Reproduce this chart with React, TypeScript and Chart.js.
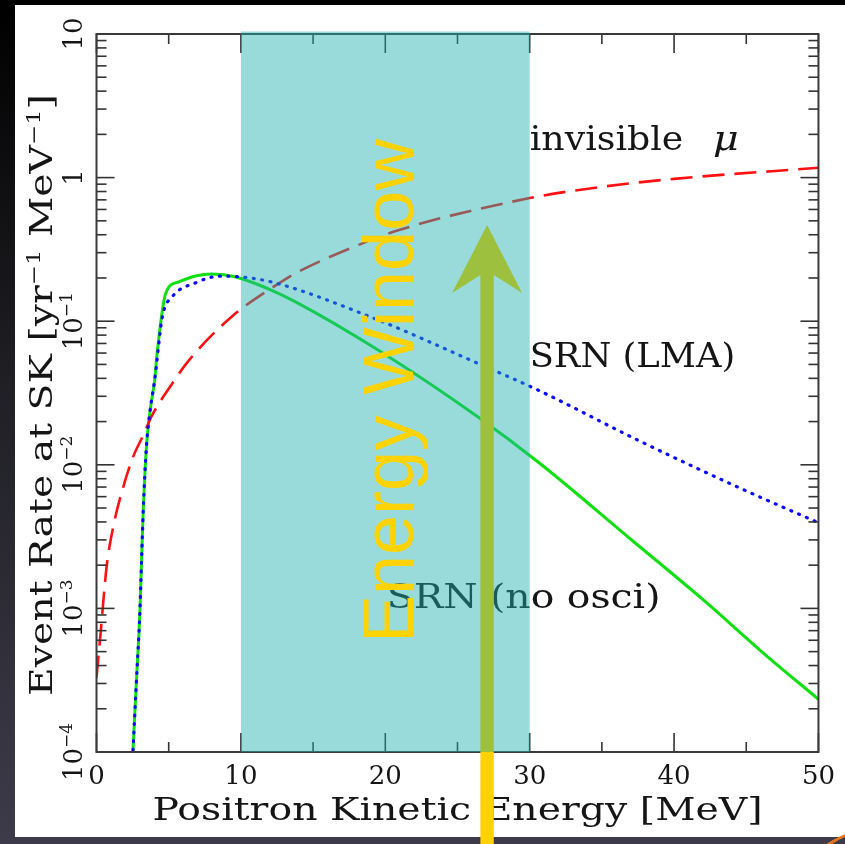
import { useEffect, useRef } from 'react';
import { Chart, registerables } from 'chart.js';

Chart.register(...registerables);

// ---------- axis ticks ----------
const xMajorTicks = [0, 10, 20, 30, 40, 50];
const xMinorTicks = [5, 15, 25, 35, 45];
const yDecades = [-4, -3, -2, -1, 0, 1];
const yMinorMultipliers = [2, 3, 4, 5, 6, 7, 8, 9];

// ---------- series: invisible mu (red dashed) ----------
const muEnergy = [0, 0.24, 0.7, 1.16, 1.85, 2.54, 3.23, 3.8, 5.18, 6.44, 9.38, 12.65, 13.75, 18.16, 20.9, 30, 34.7, 40, 50];
const muRate = [3.3e-4, 6.0e-4, 1.95e-3, 3.7e-3, 7.0e-3, 0.0114, 0.016, 0.0216, 0.036, 0.054, 0.108, 0.184, 0.215, 0.34, 0.43, 0.72, 0.855, 0.98, 1.17];

// ---------- series: SRN (LMA) (blue dotted) ----------
const lmaEnergy = [2.5, 2.77, 3.0, 3.23, 3.46, 3.69, 4.03, 4.56, 5.25, 6.86, 8.58, 10.3, 12.37, 19.5, 26.4, 30.56, 37.46, 44.35, 50];
const lmaRate = [9e-5, 3.2e-4, 9.2e-4, 4.6e-3, 0.0134, 0.0229, 0.039, 0.107, 0.148, 0.185, 0.206, 0.202, 0.185, 0.102, 0.0509, 0.0332, 0.0149, 0.00704, 0.00395];

// ---------- series: SRN (no osci) (green solid) ----------
const noOsciEnergy = [2.5, 2.77, 3.0, 3.23, 3.46, 3.69, 4.03, 4.2, 4.79, 5.71, 6.86, 8.0, 9.6, 11.9, 13.75, 19.5, 26.4, 30.56, 37.23, 42.05, 46.2, 50];
const noOsciRate = [9e-5, 3.2e-4, 9.2e-4, 4.6e-3, 0.0134, 0.0229, 0.039, 0.06, 0.156, 0.188, 0.2065, 0.213, 0.204, 0.168, 0.137, 0.063, 0.0216, 0.0105, 0.0029, 0.00114, 4.87e-4, 2.33e-4];

// ---------- annotations (data coordinates) ----------
const energyWindow = [10, 30];
const windowTextAt = [21.95, 0.0327];
const arrowAt = [27.05, 0.468];
const labelMu = [30.0, 1.56];
const labelLma = [30.0, 0.048];
const labelNoOsci = [20.1, 1.0e-3];

const SERIF = '"DejaVu Serif", "Liberation Serif", serif';
const TEXT_COLOR = '#151515';

type Part = { t: string; size: number; rise?: number; italic?: boolean; gap?: number };

function fontOf(p: Part) {
  return `${p.italic ? 'italic ' : ''}${p.size}px ${SERIF}`;
}

function drawParts(
  ctx: CanvasRenderingContext2D,
  parts: Part[],
  x: number,
  y: number,
  rot: number,
  align: 'center' | 'left',
  stretch: number,
  color: string
) {
  ctx.save();
  ctx.translate(x, y);
  ctx.rotate(rot);
  ctx.scale(stretch, 1);
  let w = 0;
  for (const p of parts) {
    ctx.font = fontOf(p);
    w += ctx.measureText(p.t).width + (p.gap || 0);
  }
  let cx = align === 'center' ? -w / 2 : 0;
  ctx.fillStyle = color;
  ctx.textAlign = 'left';
  ctx.textBaseline = 'alphabetic';
  for (const p of parts) {
    ctx.font = fontOf(p);
    cx += p.gap || 0;
    ctx.fillText(p.t, cx, -(p.rise || 0));
    cx += ctx.measureText(p.t).width;
  }
  ctx.restore();
}

const backgroundPlugin = {
  id: 'bg',
  beforeDraw(chart: any) {
    const { ctx, width, height } = chart;
    ctx.save();
    const g = ctx.createLinearGradient(0, 0, 0, height);
    g.addColorStop(0, '#000000');
    g.addColorStop(0.45, '#1f1f24');
    g.addColorStop(1, '#3d3b4a');
    ctx.fillStyle = g;
    ctx.fillRect(0, 0, width, height);
    ctx.fillStyle = '#ffffff';
    ctx.fillRect(15, 5, width - 15, 832);
    ctx.restore();
  },
};

const overlayPlugin = {
  id: 'overlay',
  afterDraw(chart: any) {
    const { ctx, chartArea: a, scales } = chart;
    const x = scales.x;
    const y = scales.y;
    ctx.save();

    // inward ticks
    ctx.strokeStyle = '#333333';
    ctx.lineWidth = 1.6;
    const seg = (x1: number, y1: number, x2: number, y2: number) => {
      ctx.beginPath();
      ctx.moveTo(x1, y1);
      ctx.lineTo(x2, y2);
      ctx.stroke();
    };
    for (const v of xMajorTicks) {
      const px = x.getPixelForValue(v);
      seg(px, a.bottom, px, a.bottom - 19);
      seg(px, a.top, px, a.top + 19);
    }
    for (const v of xMinorTicks) {
      const px = x.getPixelForValue(v);
      seg(px, a.bottom, px, a.bottom - 10);
      seg(px, a.top, px, a.top + 10);
    }
    for (const d of yDecades) {
      const base = Math.pow(10, d);
      const py = y.getPixelForValue(base);
      seg(a.left, py, a.left + 18, py);
      seg(a.right, py, a.right - 18, py);
      if (d < 1) {
        for (const m of yMinorMultipliers) {
          const pm = y.getPixelForValue(m * base);
          seg(a.left, pm, a.left + 10, pm);
          seg(a.right, pm, a.right - 10, pm);
        }
      }
    }
    // frame
    ctx.strokeStyle = '#3a3a3a';
    ctx.lineWidth = 2;
    ctx.strokeRect(a.left, a.top, a.right - a.left, a.bottom - a.top);

    // y tick labels (rotated)
    for (const d of yDecades) {
      const py = y.getPixelForValue(Math.pow(10, d));
      const parts: Part[] =
        d === 0
          ? [{ t: '1', size: 26 }]
          : d === 1
          ? [{ t: '10', size: 26 }]
          : [
              { t: '10', size: 26 },
              { t: '\u2212' + Math.abs(d), size: 17, rise: 10 },
            ];
      drawParts(ctx, parts, a.left - 14.5, py, -Math.PI / 2, 'center', 1, TEXT_COLOR);
    }

    // axis titles
    drawParts(
      ctx,
      [
        { t: 'Event Rate at SK [yr', size: 31 },
        { t: '\u22121', size: 19, rise: 12 },
        { t: ' MeV', size: 31 },
        { t: '\u22121', size: 19, rise: 12 },
        { t: ']', size: 31 },
      ],
      a.left - 44.5,
      (a.top + a.bottom) / 2 + 2,
      -Math.PI / 2,
      'center',
      1.27,
      TEXT_COLOR
    );
    drawParts(
      ctx,
      [{ t: 'Positron Kinetic Energy [MeV]', size: 31 }],
      (a.left + a.right) / 2,
      a.bottom + 68,
      0,
      'center',
      1.27,
      TEXT_COLOR
    );

    // curve labels
    drawParts(
      ctx,
      [
        { t: 'invisible', size: 33 },
        { t: '\u03bc', size: 36, italic: true, gap: 27 },
      ],
      x.getPixelForValue(labelMu[0]),
      y.getPixelForValue(labelMu[1]),
      0,
      'left',
      1.1,
      TEXT_COLOR
    );
    drawParts(
      ctx,
      [{ t: 'SRN (LMA)', size: 33 }],
      x.getPixelForValue(labelLma[0]),
      y.getPixelForValue(labelLma[1]),
      0,
      'left',
      1.07,
      TEXT_COLOR
    );
    drawParts(
      ctx,
      [{ t: 'SRN (no osci)', size: 33 }],
      x.getPixelForValue(labelNoOsci[0]),
      y.getPixelForValue(labelNoOsci[1]),
      0,
      'left',
      1.19,
      TEXT_COLOR
    );

    // energy window band (over the curves)
    const bx0 = x.getPixelForValue(energyWindow[0]);
    const bx1 = x.getPixelForValue(energyWindow[1]);
    ctx.fillStyle = 'rgba(33,176,174,0.46)';
    ctx.fillRect(bx0, a.top - 2.5, bx1 - bx0, a.bottom - a.top + 2.5);

    // "Energy Window" text
    ctx.save();
    ctx.translate(x.getPixelForValue(windowTextAt[0]), y.getPixelForValue(windowTextAt[1]));
    ctx.rotate(-Math.PI / 2);
    ctx.font = '72px "Liberation Sans", Arial, sans-serif';
    ctx.fillStyle = '#ffd200';
    ctx.textAlign = 'center';
    ctx.textBaseline = 'alphabetic';
    ctx.fillText('Energy Window', 0, 0);
    ctx.restore();

    // arrow
    const cx = x.getPixelForValue(arrowAt[0]);
    const tip = y.getPixelForValue(arrowAt[1]);
    const hw = 6.7;
    ctx.fillStyle = '#9dc03e';
    ctx.beginPath();
    ctx.moveTo(cx, tip);
    ctx.lineTo(cx + 35, tip + 68);
    ctx.lineTo(cx + hw, tip + 50);
    ctx.lineTo(cx + hw, a.bottom);
    ctx.lineTo(cx - hw, a.bottom);
    ctx.lineTo(cx - hw, tip + 50);
    ctx.lineTo(cx - 35, tip + 68);
    ctx.closePath();
    ctx.fill();
    ctx.fillStyle = '#ffd200';
    ctx.fillRect(cx - hw, a.bottom, hw * 2, chart.height - a.bottom);

    // orange corner detail
    ctx.fillStyle = '#e8761c';
    ctx.beginPath();
    ctx.moveTo(826, chart.height);
    ctx.quadraticCurveTo(836, 838, chart.width, 834);
    ctx.lineTo(chart.width, 837);
    ctx.quadraticCurveTo(838, 840, 832, chart.height);
    ctx.closePath();
    ctx.fill();

    ctx.restore();
  },
};

function toPoints(xs: number[], ys: number[]) {
  return xs.map((e, i) => ({ x: e, y: ys[i] }));
}

export default function App() {
  const ref = useRef<HTMLCanvasElement | null>(null);

  useEffect(() => {
    if (!ref.current) return;
    const chart = new Chart(ref.current, {
      type: 'line',
      data: {
        datasets: [
          {
            label: 'SRN (LMA)',
            data: toPoints(lmaEnergy, lmaRate),
            borderColor: '#0a0aff',
            borderWidth: 3.2,
            borderDash: [1, 7.5],
            borderCapStyle: 'round',
            cubicInterpolationMode: 'monotone',
            pointRadius: 0,
            fill: false,
          },
          {
            label: 'invisible μ',
            data: toPoints(muEnergy, muRate),
            borderColor: '#ff1010',
            borderWidth: 2.6,
            borderDash: [22, 10],
            cubicInterpolationMode: 'monotone',
            pointRadius: 0,
            fill: false,
          },
          {
            label: 'SRN (no osci)',
            data: toPoints(noOsciEnergy, noOsciRate),
            borderColor: '#10e010',
            borderWidth: 3,
            cubicInterpolationMode: 'monotone',
            pointRadius: 0,
            fill: false,
          },
        ],
      } as any,
      options: {
        responsive: false,
        maintainAspectRatio: false,
        animation: false,
        layout: { padding: { left: 0, right: 23.3, top: 34, bottom: 0 } },
        plugins: {
          legend: { display: false },
          tooltip: { enabled: false },
        },
        scales: {
          x: {
            type: 'linear',
            min: 0,
            max: 50,
            grid: { display: false, drawTicks: false },
            border: { display: false },
            ticks: {
              stepSize: 10,
              padding: 10,
              maxRotation: 0,
              color: TEXT_COLOR,
              font: { family: SERIF, size: 26 },
            },
            afterFit: (s: any) => {
              s.height = 92;
            },
          },
          y: {
            type: 'logarithmic',
            min: 1e-4,
            max: 10,
            grid: { display: false, drawTicks: false },
            border: { display: false },
            ticks: { display: false },
            afterFit: (s: any) => {
              s.width = 96.5;
            },
          },
        },
      } as any,
      plugins: [backgroundPlugin, overlayPlugin],
    });
    return () => chart.destroy();
  }, []);

  return (
    <div style={{ position: 'fixed', left: 0, top: 0, width: 845, height: 844 }}>
      <canvas ref={ref} width={845} height={844} style={{ display: 'block' }} />
    </div>
  );
}
